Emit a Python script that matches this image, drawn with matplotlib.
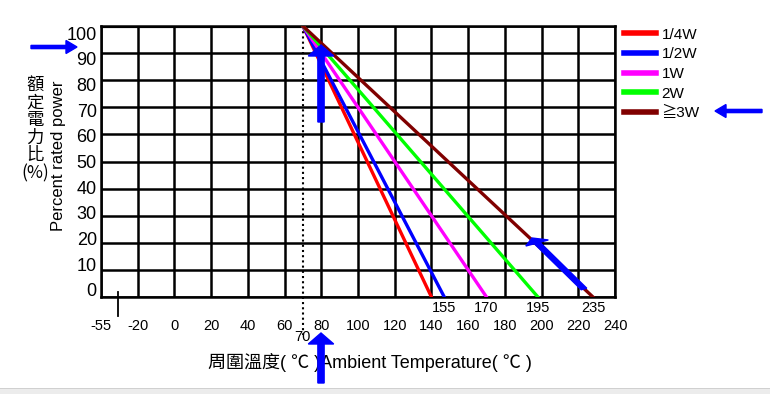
import matplotlib
matplotlib.use("Agg")
import matplotlib.pyplot as plt
from matplotlib.patches import FancyArrow, Rectangle
from matplotlib.transforms import ScaledTranslation

plt.rcParams['font.family'] = ['Liberation Sans', 'Noto Sans CJK TC', 'DejaVu Sans']

# ---- data ----
labels = ["1/4W", "1/2W", "1W", "2W", "≧3W"]
colors = ["#ff0000", "#0000ff", "#ff00ff", "#00ff00", "#800000"]
derate_start = 70          # °C, 100 % up to here
end_temps = [140, 147, 170, 198, 228]   # °C at 0 %
rated_pct = [100, 0]
x_grid_pos = [-40, -20, 0, 20, 40, 60, 80, 100, 120, 140, 160, 180, 200, 220, 240]
x_tick_labels = ["-55", "-20", "0", "20", "40", "60", "80", "100", "120", "140",
                 "160", "180", "200", "220", "240"]
y_ticks = [0, 10, 20, 30, 40, 50, 60, 70, 80, 90, 100]
end_marks = ["155", "170", "195", "235"]   # labels near line ends (1/2W..≧3W)

W, H = 770, 394
fig = plt.figure(figsize=(W / 100, H / 100), dpi=100)
ax = fig.add_axes([101 / W, 1 - 297 / H, (615 - 101) / W, (297 - 26) / H])
ax.set_xlim(x_grid_pos[0], x_grid_pos[-1])
ax.set_ylim(0, 100)

ax.set_xticks(x_grid_pos)
ax.set_xticklabels(x_tick_labels, fontsize=10.5)
ax.set_yticks(y_ticks)
ax.set_yticklabels([str(v) for v in y_ticks], fontsize=13)
ax.tick_params(axis='x', length=0, pad=16)
ax.tick_params(axis='y', length=0, pad=3)
for v, lab in zip(y_ticks, ax.get_yticklabels()):
    dy = -(v - 50) / 50 * 7 / 100.0
    lab.set_transform(lab.get_transform() + ScaledTranslation(0, dy, fig.dpi_scale_trans))
ax.grid(True, color='black', linewidth=1.8)
for s in ax.spines.values():
    s.set_linewidth(1.8)
ax.set_axisbelow(True)

# plateau
ax.plot([x_grid_pos[0], derate_start], [rated_pct[0], rated_pct[0]],
        color='black', linewidth=3, solid_capstyle='butt', zorder=3)
# derating lines
handles = []
for lab, col, et in zip(labels, colors, end_temps):
    h, = ax.plot([derate_start, et], rated_pct, color=col, linewidth=2.4,
                 label=lab, zorder=4)
    handles.append(h)

# dotted vertical line at 70
ax.plot([derate_start, derate_start], [100, -14], color='black', linestyle=(0, (1, 1.5)),
        linewidth=1.5, clip_on=False, zorder=3)
ax.text(derate_start, -12, "70", ha='center', va='top', fontsize=10.5)
# small artifact mark
ax.plot([-31, -31], [2, -7], color='black', linewidth=1.3, clip_on=False)

# end labels
for et, m in zip(end_temps[1:], end_marks):
    ax.text(et, -1.5, m, ha='center', va='top', fontsize=10.5)

# legend
leg = ax.legend(handles=handles, loc='upper left', bbox_to_anchor=(1.0, 1.028),
                frameon=False, fontsize=11, handlelength=2.1, handletextpad=0.35,
                labelspacing=0.37, borderaxespad=0.2)
for lh in leg.get_lines():
    lh.set_linewidth(4)

# axis labels
fig.text(370 / W, 1 - 362 / H, "周圍溫度( ℃ )Ambient Temperature( ℃ )", ha='center',
         va='center', fontsize=13, family=['Liberation Sans', 'Noto Sans CJK TC'])
fig.text(35 / W, 1 - 129 / H, "額\n定\n電\n力\n比\n(%)", ha='center', va='center',
         fontsize=12.5, linespacing=0.98, family=['Noto Sans CJK TC', 'Liberation Sans'])
fig.text(58 / W, 1 - 156 / H, "Percent rated power", ha='center', va='center',
         rotation=90, fontsize=12)

# blue annotation arrows (pixel coords)
def arrow(x0, y0, x1, y1):
    fx0, fy0 = x0 / W, 1 - y0 / H
    fx1, fy1 = x1 / W, 1 - y1 / H
    ar = FancyArrow(fx0, fy0, fx1 - fx0, fy1 - fy0, width=3.2 / H,
                    head_width=13 / H, head_length=11 / W if abs(x1 - x0) > abs(y1 - y0) else 11 / H,
                    length_includes_head=True, color='#0000ff', transform=fig.transFigure,
                    zorder=10)
    fig.add_artist(ar)

arrow(31, 47, 77, 47)
arrow(321, 122, 321, 45)
arrow(762, 111, 715, 111)
arrow(584, 289, 532, 238)
arrow(321, 383, 321, 333)

# bottom gray band
fig.add_artist(Rectangle((0, 0), 1, 5 / H, transform=fig.transFigure,
                         facecolor='#ececec', edgecolor='none'))
fig.add_artist(Rectangle((0, 5 / H), 1, 1 / H, transform=fig.transFigure,
                         facecolor='#d0d0d0', edgecolor='none'))

fig.savefig("out.png", dpi=100)
